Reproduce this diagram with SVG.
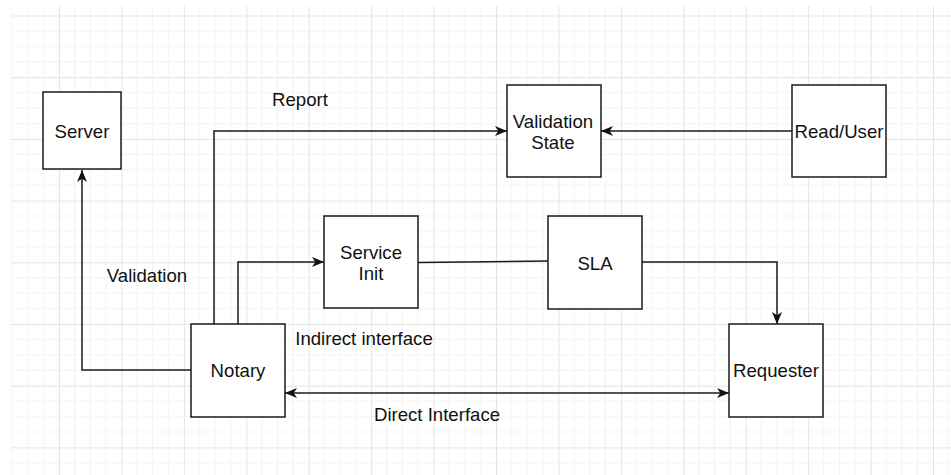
<svg xmlns="http://www.w3.org/2000/svg" width="951" height="475" viewBox="0 0 951 475">
<defs>
<pattern id="grid" patternUnits="userSpaceOnUse" x="59" y="15.5" width="62.43" height="61.7">
<path d="M15.6,0V61.7M31.2,0V61.7M46.8,0V61.7M0,15.4H62.43M0,30.85H62.43M0,46.3H62.43" stroke="#f3f3f3" stroke-width="1" fill="none"/>
<path d="M0.5,0V61.7M0,0.5H62.43" stroke="#e4e4e4" stroke-width="1" fill="none"/>
</pattern>
<marker id="arr" markerUnits="userSpaceOnUse" markerWidth="13" markerHeight="11" refX="12" refY="5" orient="auto-start-reverse" viewBox="0 0 13 11">
<path d="M0,0 L12,5 L0,10 L3.3,5 Z" fill="#111"/>
</marker>
<style>
.box{fill:#fff;stroke:#1a1a1a;stroke-width:1.5}
.t{font-family:"Liberation Sans",Arial,sans-serif;font-size:18.6px;fill:#111;text-anchor:middle}
.e{fill:none;stroke:#1a1a1a;stroke-width:1.5}
</style>
</defs>
<rect x="0" y="0" width="951" height="475" fill="#fff"/>
<rect x="11" y="6" width="940" height="469" fill="url(#grid)"/>

<g id="connectors">
<path class="e" d="M191,370H82V170" marker-end="url(#arr)"/>
<path class="e" d="M214,324V131H507" marker-end="url(#arr)"/>
<path class="e" d="M792,131H601" marker-end="url(#arr)"/>
<path class="e" d="M238,324V262H324" marker-end="url(#arr)"/>
<path class="e" d="M418,262.5L548,261"/>
<path class="e" d="M642,262H777V324" marker-end="url(#arr)"/>
<path class="e" d="M285,393H729" marker-start="url(#arr)" marker-end="url(#arr)"/>
</g>

<g id="labels">
<text class="t" x="300" y="106">Report</text>
<text class="t" x="147" y="282">Validation</text>
<text class="t" x="364" y="345">Indirect interface</text>
<text class="t" x="437" y="421">Direct Interface</text>
</g>

<g id="server"><rect class="box" x="43" y="92" width="78" height="77"/><text class="t" x="82" y="138">Server</text></g>
<g id="validation-state"><rect class="box" x="507" y="85" width="94" height="92"/><text class="t" x="553" y="128">Validation</text><text class="t" x="553" y="149">State</text></g>
<g id="read-user"><rect class="box" x="792" y="85" width="94" height="92"/><text class="t" x="839" y="138">Read/User</text></g>
<g id="service-init"><rect class="box" x="324" y="216" width="94" height="92"/><text class="t" x="371" y="259">Service</text><text class="t" x="371" y="280">Init</text></g>
<g id="sla"><rect class="box" x="548" y="216" width="94" height="93"/><text class="t" x="595" y="270">SLA</text></g>
<g id="notary"><rect class="box" x="191" y="324" width="94" height="93"/><text class="t" x="238" y="377">Notary</text></g>
<g id="requester"><rect class="box" x="729" y="324" width="94" height="93"/><text class="t" x="776" y="377">Requester</text></g>
</svg>
